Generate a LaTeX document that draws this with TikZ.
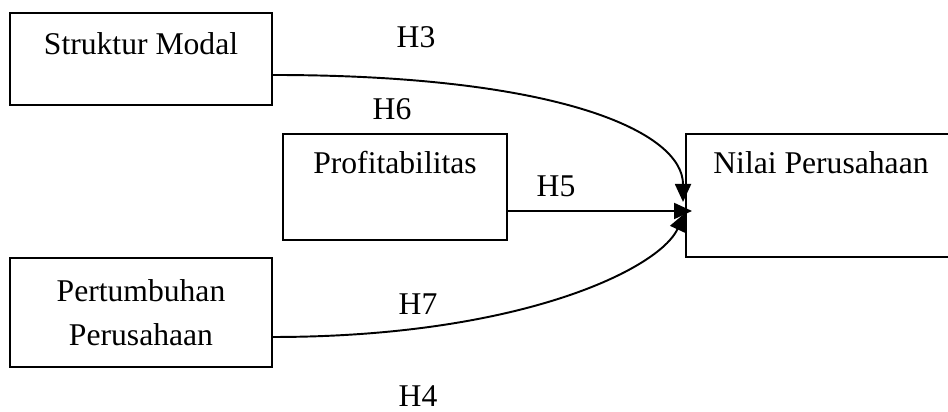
\documentclass[tikz,border=0pt]{standalone}
\usepackage{fontspec}
\setmainfont{Liberation Serif}
\usetikzlibrary{calc}
\usetikzlibrary{arrows.meta}

\tikzset{
  varbox/.style={draw, line width=1.1pt, inner sep=0pt},
  boxtext/.style={anchor=base, font=\fontsize{18}{25}\selectfont},
  hyp/.style={anchor=base, font=\fontsize{18}{25}\selectfont},
  link/.style={line width=1.1pt, -{Triangle[length=0.36cm,width=0.32cm]}}
}

\begin{document}
\begin{tikzpicture}
\clip (0,0) rectangle (18.96,8.24);

% variables
\node[varbox, minimum width=5.24cm, minimum height=1.84cm] (sm) at (2.82,7.06) {};
\node[boxtext] at ([yshift=-0.84cm]sm.north) {Struktur Modal};
\node[varbox, minimum width=4.48cm, minimum height=2.12cm] (pf) at (7.90,4.50) {};
\node[boxtext] at ([yshift=-0.80cm]pf.north) {Profitabilitas};
\node[varbox, minimum width=5.40cm, minimum height=2.46cm] (nv) at (16.42,4.33) {};
\node[boxtext] at ([yshift=-0.80cm]nv.north) {Nilai Perusahaan};
\node[varbox, minimum width=5.24cm, minimum height=2.18cm, align=center,
      font=\fontsize{18}{25}\selectfont] (pp) at (2.82,1.99) {Pertumbuhan\\Perusahaan};

% hypotheses
\node[hyp] (h3) at (8.32,7.28) {H3};
\node[hyp] (h6) at (7.84,5.84) {H6};
\node[hyp] (h5) at (11.12,4.30) {H5};
\node[hyp] (h7) at (8.36,1.94) {H7};
\node[hyp] (h4) at (8.36,0.10) {H4};

% arrows
\coordinate(A) at ([yshift=-0.32cm]sm.east);
\coordinate(B) at ([xshift=-0.04cm, yshift=-0.13cm]nv.west);
\draw[link] (A) to [out=0, in=90, out looseness=1.7, in looseness=0.42] (B);
\coordinate(A) at ([yshift=-0.48cm]pf.east);
\coordinate(B) at ([xshift=0.14cm, yshift=-0.31cm]nv.west);
\draw[link] (A) -- (B);
\coordinate(A) at ([yshift=-0.49cm]pp.east);
\coordinate(B) at ([yshift=-0.35cm]nv.west);
\draw[link] (A) to [out=0, in=245, out looseness=1.47, in looseness=0.37] (B);

\end{tikzpicture}
\end{document}
